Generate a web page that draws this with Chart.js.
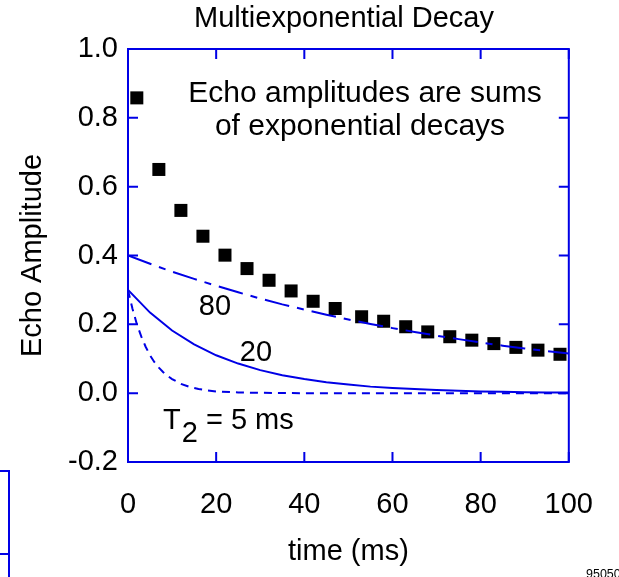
<!DOCTYPE html>
<html>
<head>
<meta charset="utf-8">
<title>Multiexponential Decay</title>
<script src="https://cdn.jsdelivr.net/npm/chart.js@4.4.1/dist/chart.umd.min.js"></script>
<style>
  html, body { margin: 0; padding: 0; background: #fff; }
  #chart { display: block; }
</style>
</head>
<body>
<canvas id="chart" width="619" height="577"></canvas>
<script>
'use strict';

// values

var echoTimes = [2, 7, 12, 17, 22, 27, 32, 37, 42, 47, 53, 58, 63, 68, 73, 78, 83, 88, 93, 98];
var echoAmps = [0.858, 0.650, 0.531, 0.456, 0.401, 0.362, 0.328, 0.297, 0.267, 0.246,
                0.222, 0.209, 0.193, 0.178, 0.164, 0.154, 0.144, 0.133, 0.125, 0.113];

var curveTimes = [0, 5, 10, 15, 20, 25, 30, 35, 40, 45, 50, 55, 60, 65, 70, 75, 80, 85, 90, 95, 100];
var decay80 = [0.400, 0.376, 0.353, 0.332, 0.312, 0.293, 0.275, 0.258, 0.243, 0.228, 0.214,
               0.201, 0.189, 0.178, 0.167, 0.157, 0.147, 0.138, 0.130, 0.122, 0.115];
var decay20 = [0.300, 0.234, 0.182, 0.142, 0.110, 0.086, 0.067, 0.052, 0.041, 0.032, 0.025,
               0.019, 0.015, 0.012, 0.009, 0.007, 0.005, 0.004, 0.003, 0.002, 0.002];

var fastTimes = [0, 1, 2, 3, 4, 5, 6, 7, 8, 9, 10, 12, 14, 16, 18, 20, 25, 30, 40, 60, 80, 100];
var decay5 = [0.300, 0.246, 0.201, 0.165, 0.135, 0.110, 0.090, 0.074, 0.061, 0.050, 0.041,
              0.027, 0.018, 0.012, 0.008, 0.005, 0.002, 0.001, 0.000, 0.000, 0.000, 0.000];

var xTicks = [0, 20, 40, 60, 80, 100];
var yTicks = [-0.2, 0, 0.2, 0.4, 0.6, 0.8, 1.0];

var BLUE = '#0000e6';
var FONT = '"Liberation Sans", Arial, sans-serif';

function toPoints(xs, ys) {
  return xs.map(function(x, i) { return {x: x, y: ys[i]}; });
}

// frame with inward ticks on all four sides
var framePlugin = {
  id: 'frame',
  beforeDatasetsDraw: function(chart) {
    var ctx = chart.ctx;
    var a = chart.chartArea;
    var xs = chart.scales.x;
    var ys = chart.scales.y;
    var tl = 10;
    ctx.save();
    ctx.strokeStyle = BLUE;
    ctx.lineWidth = 2;
    ctx.strokeRect(a.left, a.top, a.right - a.left, a.bottom - a.top);
    ctx.beginPath();
    xTicks.forEach(function(v) {
      var px = xs.getPixelForValue(v);
      ctx.moveTo(px, a.bottom); ctx.lineTo(px, a.bottom - tl);
      ctx.moveTo(px, a.top); ctx.lineTo(px, a.top + tl);
    });
    yTicks.forEach(function(v) {
      var py = ys.getPixelForValue(v);
      ctx.moveTo(a.left, py); ctx.lineTo(a.left + tl, py);
      ctx.moveTo(a.right, py); ctx.lineTo(a.right - tl, py);
    });
    ctx.stroke();
    ctx.restore();
  },
  afterDraw: function(chart) {
    var ctx = chart.ctx;
    ctx.save();
    ctx.fillStyle = '#000';
    ctx.textBaseline = 'alphabetic';
    ctx.textAlign = 'center';

    ctx.font = '29px ' + FONT;
    ctx.fillText('Multiexponential Decay', 344, 27);

    ctx.font = '30px ' + FONT;
    ctx.fillText('Echo amplitudes are sums', 365, 102);
    ctx.fillText('of exponential decays', 360, 135);

    ctx.font = '29px ' + FONT;
    ctx.fillText('80', 215, 315);
    ctx.fillText('20', 256, 361);

    ctx.textAlign = 'left';
    var x = 163;
    ctx.fillText('T', x, 429);
    x += ctx.measureText('T').width + 1;
    ctx.fillText('2', x, 442);
    x += ctx.measureText('2').width;
    ctx.fillText(' = 5 ms', x, 429);

    // scrap of the neighbouring figure and file number at the edges
    ctx.font = '12.5px ' + FONT;
    ctx.fillText('95050', 586, 578);
    ctx.strokeStyle = BLUE;
    ctx.lineWidth = 2;
    ctx.beginPath();
    ctx.moveTo(0, 471); ctx.lineTo(9, 471); ctx.lineTo(9, 577);
    ctx.moveTo(0, 554); ctx.lineTo(9, 554);
    ctx.stroke();
    ctx.restore();
  }
};

var ctx = document.getElementById('chart').getContext('2d');

var chart = new Chart(ctx, {
  type: 'line',
  data: {
    datasets: [
      {
        label: 'T2 = 80 ms',
        data: toPoints(curveTimes, decay80),
        borderColor: BLUE,
        borderWidth: 2,
        borderDash: [25, 8, 7, 8],
        pointRadius: 0,
        tension: 0
      },
      {
        label: 'T2 = 20 ms',
        data: toPoints(curveTimes, decay20),
        borderColor: BLUE,
        borderWidth: 2,
        pointRadius: 0,
        tension: 0
      },
      {
        label: 'T2 = 5 ms',
        data: toPoints(fastTimes, decay5),
        borderColor: BLUE,
        borderWidth: 2,
        borderDash: [8, 6],
        pointRadius: 0,
        tension: 0
      },
      {
        label: 'Echo amplitude',
        data: toPoints(echoTimes, echoAmps),
        showLine: false,
        pointStyle: 'rect',
        pointRadius: 9.2,
        pointBackgroundColor: '#000',
        pointBorderColor: '#000',
        pointBorderWidth: 0,
        clip: false
      }
    ]
  },
  options: {
    responsive: false,
    animation: false,
    devicePixelRatio: 1,
    layout: { padding: { left: 0, right: 49, top: 49, bottom: 0 } },
    plugins: {
      legend: { display: false },
      tooltip: { enabled: false },
      title: { display: false }
    },
    scales: {
      x: {
        type: 'linear',
        min: 0,
        max: 100,
        afterBuildTicks: function(scale) {
          scale.ticks = xTicks.map(function(v) { return {value: v}; });
        },
        afterFit: function(scale) { scale.height = 115; },
        grid: { display: false, drawTicks: false },
        border: { display: false },
        ticks: {
          color: '#000',
          padding: 26,
          maxRotation: 0,
          font: { family: FONT, size: 29 }
        },
        title: {
          display: true,
          text: 'time (ms)',
          color: '#000',
          font: { family: FONT, size: 29 },
          padding: { top: 0, bottom: 8 }
        }
      },
      y: {
        type: 'linear',
        min: -0.2,
        max: 1.0,
        afterBuildTicks: function(scale) {
          scale.ticks = yTicks.map(function(v) { return {value: v}; });
        },
        afterFit: function(scale) { scale.width = 128; },
        grid: { display: false, drawTicks: false },
        border: { display: false },
        ticks: {
          color: '#000',
          padding: 10,
          font: { family: FONT, size: 29 },
          callback: function(v) { return Math.abs(v) < 1e-9 ? '0.0' : Number(v).toFixed(1); }
        },
        title: {
          display: true,
          text: 'Echo Amplitude',
          color: '#000',
          font: { family: FONT, size: 29 },
          padding: { top: 16, bottom: 0 }
        }
      }
    }
  },
  plugins: [framePlugin]
});
</script>
</body>
</html>
